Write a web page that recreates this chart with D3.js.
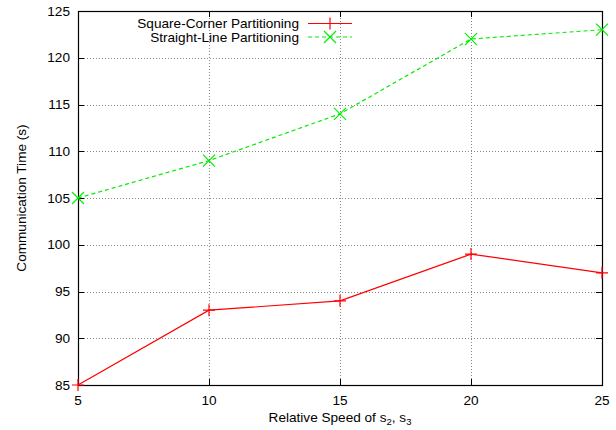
<!DOCTYPE html>
<html>
<head>
<meta charset="utf-8">
<script src="https://cdn.jsdelivr.net/npm/d3@7"></script>
<style>
  html, body { margin: 0; padding: 0; background: #fff; }
  svg { display: block; }
  text { font-family: "Liberation Sans", Arial, sans-serif; fill: #000; }
</style>
</head>
<body>
<svg id="chart" width="616" height="430"></svg>
<script>
// Relative speed of s2, s3 (x) and communication time in seconds (y)
const speeds = [5, 10, 15, 20, 25];
const squareCorner = [85, 93, 94, 99, 97];
const straightLine = [105, 109, 114, 122, 123];
const xTicks = [5, 10, 15, 20, 25];
const yTicks = [85, 90, 95, 100, 105, 110, 115, 120, 125];
const seriesNames = ["Square-Corner Partitioning", "Straight-Line Partitioning"];

const W = 616, H = 430;
const m = { left: 78, right: 14, top: 11, bottom: 45 };
const fs = 13.6;
const svg = d3.select("#chart");

const x = d3.scaleLinear().domain([5, 25]).range([m.left, W - m.right]);
const y = d3.scaleLinear().domain([85, 125]).range([H - m.bottom, m.top]);

const x0 = x.range()[0], x1 = x.range()[1];
const y0 = y.range()[0], y1 = y.range()[1];

// dotted grid
const grid = svg.append("g").attr("stroke", "#888").attr("stroke-width", 1)
  .attr("stroke-dasharray", "1,2");
grid.selectAll(".gx").data(xTicks.slice(1, -1)).join("line")
  .attr("x1", d => Math.round(x(d)) + 0.5).attr("x2", d => Math.round(x(d)) + 0.5)
  .attr("y1", y0).attr("y2", y1);
grid.selectAll(".gy").data(yTicks.slice(1, -1)).join("line")
  .attr("y1", d => Math.round(y(d)) + 0.5).attr("y2", d => Math.round(y(d)) + 0.5)
  .attr("x1", x0).attr("x2", x1);

// axes (ticks mirrored inside on all four sides)
const tl = 6;
const ax = svg.append("g").attr("stroke", "#000").attr("stroke-width", 1);
xTicks.forEach(d => {
  const px = Math.round(x(d)) + 0.5;
  ax.append("line").attr("x1", px).attr("x2", px).attr("y1", y0).attr("y2", y0 - tl);
  ax.append("line").attr("x1", px).attr("x2", px).attr("y1", y1).attr("y2", y1 + tl);
});
yTicks.forEach(d => {
  const py = Math.round(y(d)) + 0.5;
  ax.append("line").attr("x1", x0).attr("x2", x0 + tl).attr("y1", py).attr("y2", py);
  ax.append("line").attr("x1", x1).attr("x2", x1 - tl).attr("y1", py).attr("y2", py);
});
svg.append("rect")
  .attr("x", x0 + 0.5).attr("y", y1 + 0.5)
  .attr("width", x1 - x0).attr("height", y0 - y1)
  .attr("fill", "none").attr("stroke", "#000").attr("stroke-width", 1.2);

// tick labels
svg.append("g").selectAll("text").data(xTicks).join("text")
  .attr("x", d => x(d)).attr("y", y0 + 20)
  .attr("text-anchor", "middle").attr("font-size", fs).text(d => d);
svg.append("g").selectAll("text").data(yTicks).join("text")
  .attr("x", x0 - 8).attr("y", d => y(d) + 4.5)
  .attr("text-anchor", "end").attr("font-size", fs).text(d => d);

// axis titles
const xt = svg.append("text").attr("x", (x0 + x1) / 2).attr("y", H - 8)
  .attr("text-anchor", "middle").attr("font-size", fs);
xt.append("tspan").text("Relative Speed of s");
xt.append("tspan").attr("font-size", 9.5).attr("dy", 3).text("2");
xt.append("tspan").attr("dy", -3).text(", s");
xt.append("tspan").attr("font-size", 9.5).attr("dy", 3).text("3");

svg.append("text")
  .attr("transform", `translate(26,${(y0 + y1) / 2}) rotate(-90)`)
  .attr("text-anchor", "middle").attr("font-size", fs)
  .text("Communication Time (s)");

// series
const series = [
  { name: seriesNames[0], values: squareCorner, color: "#ff0000", dash: null, marker: "plus" },
  { name: seriesNames[1], values: straightLine, color: "#00ee00", dash: "4,3", marker: "cross" }
];

const line = d3.line().x(d => x(d[0])).y(d => y(d[1]));
const ms = 6;
function drawMarker(g, type, cx, cy, color) {
  if (type === "plus") {
    g.append("path").attr("d", `M${cx - ms},${cy}H${cx + ms}M${cx},${cy - ms}V${cy + ms}`)
      .attr("stroke", color).attr("stroke-width", 1.2).attr("fill", "none");
  } else {
    g.append("path").attr("d", `M${cx - ms},${cy - ms}L${cx + ms},${cy + ms}M${cx - ms},${cy + ms}L${cx + ms},${cy - ms}`)
      .attr("stroke", color).attr("stroke-width", 1.2).attr("fill", "none");
  }
}

series.forEach(s => {
  const pts = speeds.map((v, i) => [v, s.values[i]]);
  const g = svg.append("g");
  g.append("path").attr("d", line(pts)).attr("fill", "none")
    .attr("stroke", s.color).attr("stroke-width", 1.2)
    .attr("stroke-dasharray", s.dash);
  pts.forEach(p => drawMarker(g, s.marker, x(p[0]), y(p[1]), s.color));
});

// legend
const lg = svg.append("g");
series.forEach((s, i) => {
  const ly = 23.5 + i * 13.5;
  lg.append("text").attr("x", 299).attr("y", ly + 4.5)
    .attr("text-anchor", "end").attr("font-size", fs).text(s.name);
  lg.append("line").attr("x1", 308).attr("x2", 352).attr("y1", ly).attr("y2", ly)
    .attr("stroke", s.color).attr("stroke-width", 1.2).attr("stroke-dasharray", s.dash);
  drawMarker(lg, s.marker, 330, ly, s.color);
});
</script>
</body>
</html>
